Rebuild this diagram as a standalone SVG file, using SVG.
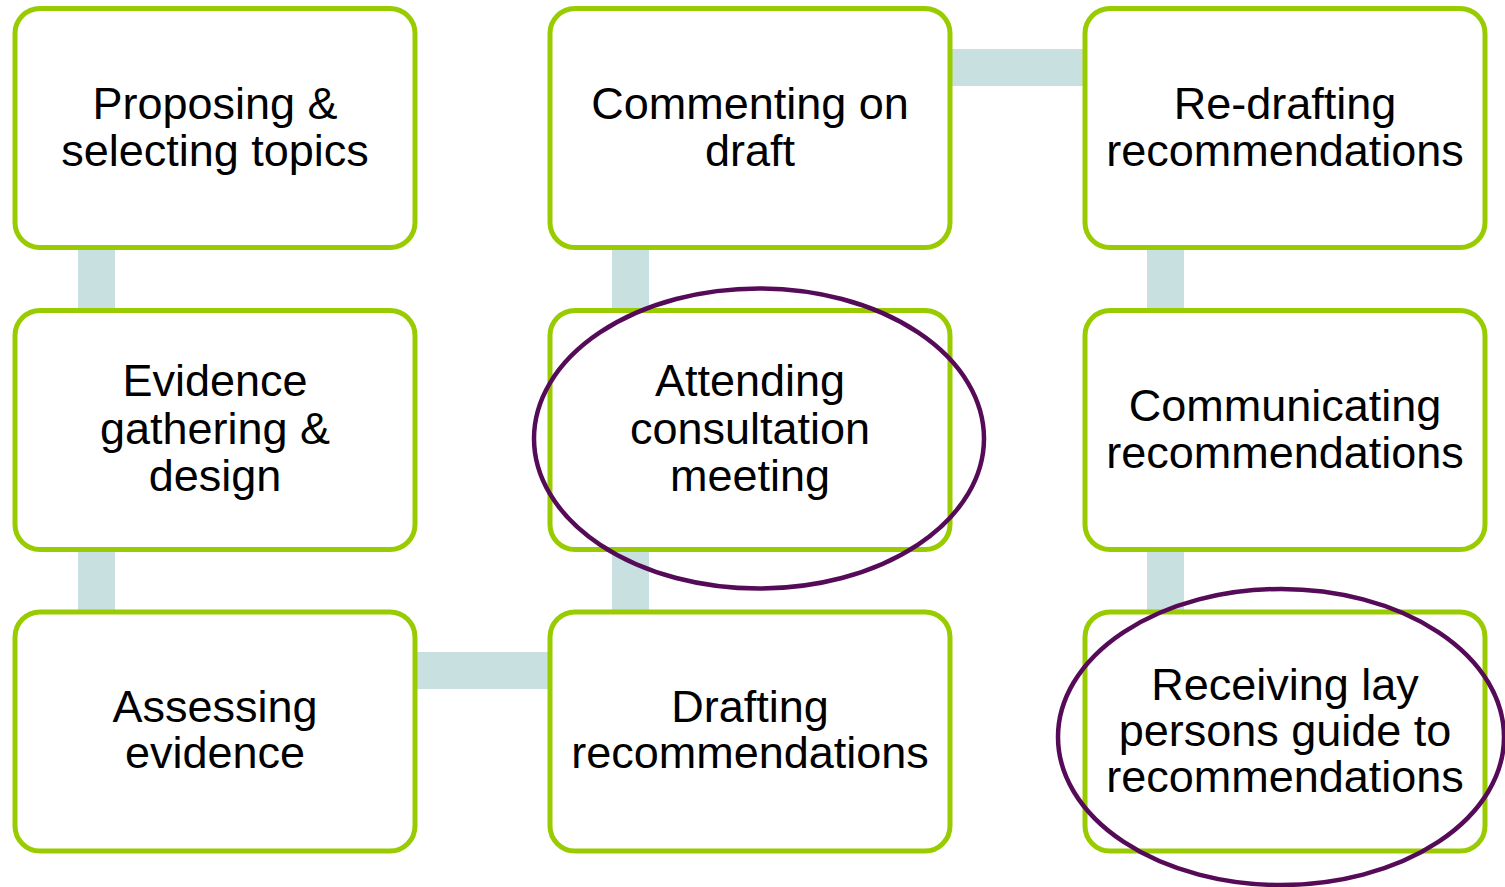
<svg xmlns="http://www.w3.org/2000/svg" width="1505" height="887" viewBox="0 0 1505 887">
  <style>
    .box { fill: #ffffff; stroke: #99cc00; stroke-width: 5; }
    .link { fill: #c9e0e1; }
    .label { font-family: "Liberation Sans", Arial, sans-serif; font-size: 45px; fill: #000000; text-anchor: middle; }
    .ring { fill: none; stroke: #560b58; stroke-width: 4.5; }
  </style>
  <rect width="1505" height="887" fill="#ffffff"/>

  <!-- connecting bars between steps -->
  <g id="connectors">
    <rect class="link" x="78" y="245" width="37" height="70"/>
    <rect class="link" x="78" y="547" width="37" height="70"/>
    <rect class="link" x="413" y="652" width="140" height="37"/>
    <rect class="link" x="612" y="547" width="37" height="70"/>
    <rect class="link" x="612" y="245" width="37" height="70"/>
    <rect class="link" x="948" y="49" width="140" height="37"/>
    <rect class="link" x="1147" y="245" width="37" height="70"/>
    <rect class="link" x="1147" y="547" width="37" height="70"/>
  </g>

  <g id="proposing">
    <rect class="box" x="15" y="8.5" width="400" height="239" rx="25"/>
    <text class="label" x="215" y="119">Proposing &amp;</text>
    <text class="label" x="215" y="166">selecting topics</text>
  </g>
  <g id="evidence-gathering">
    <rect class="box" x="15" y="310.5" width="400" height="239" rx="25"/>
    <text class="label" x="215" y="396">Evidence</text>
    <text class="label" x="215" y="444">gathering &amp;</text>
    <text class="label" x="215" y="491">design</text>
  </g>
  <g id="assessing">
    <rect class="box" x="15" y="612" width="400" height="239" rx="25"/>
    <text class="label" x="215" y="722">Assessing</text>
    <text class="label" x="215" y="768">evidence</text>
  </g>
  <g id="drafting">
    <rect class="box" x="550" y="612" width="400" height="239" rx="25"/>
    <text class="label" x="750" y="722">Drafting</text>
    <text class="label" x="750" y="768">recommendations</text>
  </g>
  <g id="consultation">
    <rect class="box" x="550" y="310.5" width="400" height="239" rx="25"/>
    <text class="label" x="750" y="396">Attending</text>
    <text class="label" x="750" y="444">consultation</text>
    <text class="label" x="750" y="491">meeting</text>
  </g>
  <g id="commenting">
    <rect class="box" x="550" y="8.5" width="400" height="239" rx="25"/>
    <text class="label" x="750" y="119">Commenting on</text>
    <text class="label" x="750" y="166">draft</text>
  </g>
  <g id="redrafting">
    <rect class="box" x="1085" y="8.5" width="400" height="239" rx="25"/>
    <text class="label" x="1285" y="119">Re-drafting</text>
    <text class="label" x="1285" y="166">recommendations</text>
  </g>
  <g id="communicating">
    <rect class="box" x="1085" y="310.5" width="400" height="239" rx="25"/>
    <text class="label" x="1285" y="421">Communicating</text>
    <text class="label" x="1285" y="468">recommendations</text>
  </g>
  <g id="lay-guide">
    <rect class="box" x="1085" y="612" width="400" height="239" rx="25"/>
    <text class="label" x="1285" y="700">Receiving lay</text>
    <text class="label" x="1285" y="746">persons guide to</text>
    <text class="label" x="1285" y="792">recommendations</text>
  </g>

  <!-- highlight rings -->
  <g id="highlights">
    <ellipse class="ring" cx="759" cy="438.5" rx="225" ry="150"/>
    <ellipse class="ring" cx="1281" cy="737" rx="223" ry="148"/>
  </g>
</svg>
